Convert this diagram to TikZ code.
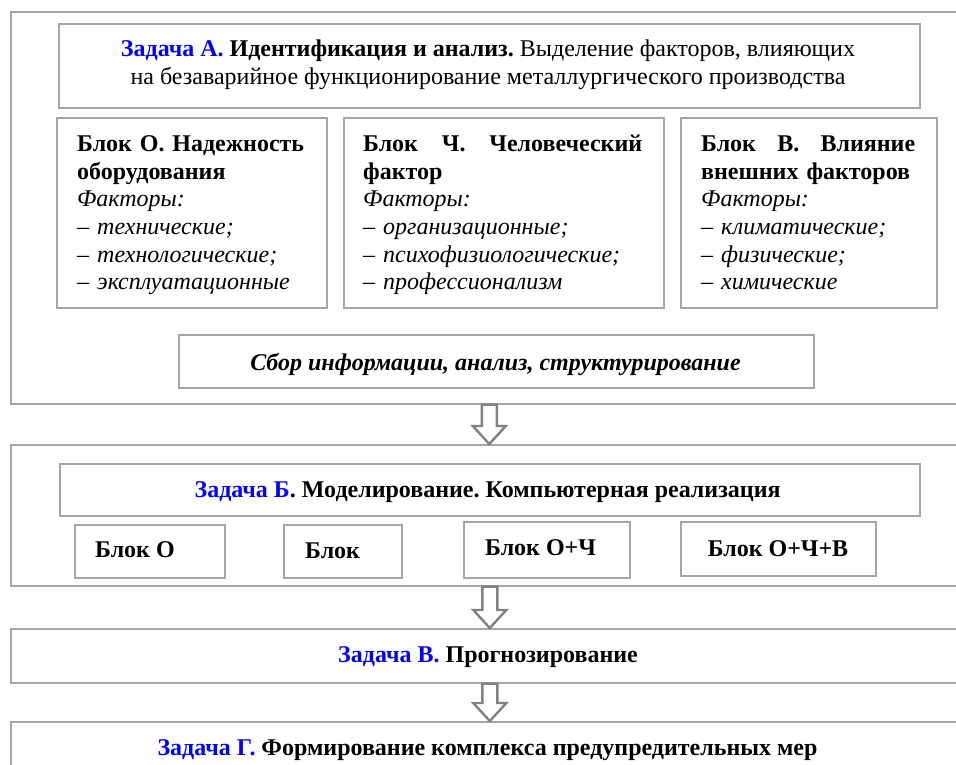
\documentclass[tikz,border=0pt]{standalone}
\usepackage{fontspec}
\setmainfont{Liberation Serif}[Ligatures=TeX]
\usetikzlibrary{calc}
\definecolor{zblue}{RGB}{0,0,255}
\definecolor{fgray}{RGB}{165,165,165}
\definecolor{agray}{RGB}{130,130,130}
\newcommand\zd[1]{\textcolor{zblue}{\textbf{#1}}}
\newcommand\fst{\rule{0pt}{18pt}}
\newcommand\harrow[2]{\draw[hollow] ($(#1)+(-7.5,0)$) -- ($(#2)+(-7.5,-18)$) -- ($(#2)+(-16.5,-18)$) -- (#2) -- ($(#2)+(16.5,-18)$) -- ($(#2)+(7.5,-18)$) -- ($(#1)+(7.5,0)$) -- cycle;}
\frenchspacing
\begin{document}
\begin{tikzpicture}[x=1pt,y=-1pt,
  frame/.style={draw=fgray, line width=1.6pt, inner sep=0pt, anchor=north west},
  hollow/.style={draw=agray, line width=2.4pt, fill=white, line join=miter},
  txt/.style={inner sep=0pt, font=\fontsize{24}{27.3}\selectfont},
  blocktxt/.style={txt, anchor=north west, align=left, font=\fontsize{24}{27.6}\selectfont},
  line/.style={txt, anchor=base},
  linew/.style={txt, anchor=base west}]
\clip (0,0) rectangle (956,764);
\fill[white] (0,0) rectangle (956,764);
% Task A
\node[frame, minimum width=980, minimum height=392] (A) at (10,11) {};
\node[frame, minimum width=861, minimum height=84] (TA) at (58,23) {};
\node[txt, anchor=north, align=center, font=\fontsize{24}{28}\selectfont] (tTA) at (488,38)
  {\fst\zd{Задача А.} \textbf{Идентификация и анализ.} Выделение факторов, влияющих\\
   на безаварийное функционирование металлургического производства};
\node[frame, minimum width=270, minimum height=190] (BO) at (56,117) {};
\node[frame, minimum width=320, minimum height=190] (BCh) at (343,117) {};
\node[frame, minimum width=256, minimum height=190] (BV) at (680,117) {};
\node[blocktxt, text width=227] (tBO) at (77,133.5)
  {\fst\textbf{Блок\hfill О.\hfill Надежность}\\
   \textbf{оборудования}\\
   \textit{Факторы:}\\
   – \textit{технические;}\\
   – \textit{технологические;}\\
   – \textit{эксплуатационные}};
\node[blocktxt, text width=279] (tBCh) at (363,133.5)
  {\fst\textbf{Блок\hfill Ч.\hfill Человеческий}\\
   \textbf{фактор}\\
   \textit{Факторы:}\\
   – \textit{организационные;}\\
   – \textit{психофизиологические;}\\
   – \textit{профессионализм}};
\node[blocktxt, text width=214] (tBV) at (701,133.5)
  {\fst\textbf{Блок\hfill В.\hfill Влияние}\\
   \textbf{внешних факторов}\\
   \textit{Факторы:}\\
   – \textit{климатические;}\\
   – \textit{физические;}\\
   – \textit{химические}};
\node[frame, minimum width=635, minimum height=53] (S) at (178,334) {};
\node[line] (tS) at (495.5,370) {\textbf{\textit{Сбор информации, анализ, структурирование}}};
% Task B
\node[frame, minimum width=980, minimum height=141] (B) at (10,444) {};
\node[frame, minimum width=860, minimum height=52] (TB) at (59,463) {};
\node[line] (tTB) at (487.6,497) {\zd{Задача Б}\textbf{. Моделирование. Компьютерная реализация}};
\node[frame, minimum width=150, minimum height=53] (b1) at (74,524) {};
\node[frame, minimum width=118, minimum height=53] (b2) at (283,524) {};
\node[frame, minimum width=166, minimum height=56] (b3) at (463,521) {};
\node[frame, minimum width=195, minimum height=54] (b4) at (680,521) {};
\node[linew] (tb1) at (95,557) {\textbf{Блок О}};
\node[linew] (tb2) at (305,558) {\textbf{Блок}};
\node[linew] (tb3) at (485,555) {\textbf{Блок О+Ч}};
\node[line] (tb4) at (778,556) {\textbf{Блок О+Ч+В}};
% Task V
\node[frame, minimum width=980, minimum height=54] (V) at (10,628) {};
\node[line] (tV) at (488,662) {\zd{Задача В.} \textbf{Прогнозирование}};
% Task G
\node[frame, minimum width=980, minimum height=90] (G) at (10,721) {};
\node[line] (tG) at (487.5,755) {\zd{Задача Г.} \textbf{Формирование комплекса предупредительных мер}};
% arrows
\harrow{TA.south |- A.south}{TA.south |- B.north}
\harrow{TB.south |- B.south}{TB.south |- V.north}
\harrow{TB.south |- V.south}{TB.south |- G.north}
\end{tikzpicture}
\end{document}
